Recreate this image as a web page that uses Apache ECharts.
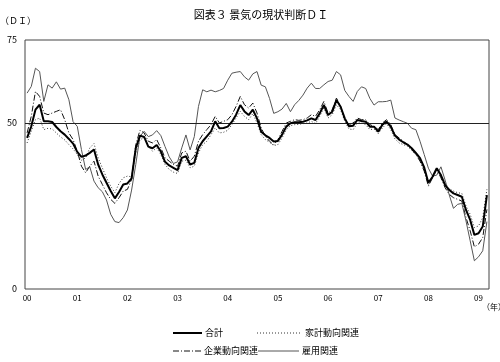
<!DOCTYPE html>
<html>
<head>
<meta charset="utf-8">
<script src="https://cdn.jsdelivr.net/npm/echarts@6/dist/echarts.min.js"></script>
<style>
  html, body { margin: 0; padding: 0; background: #fff; }
  #chart { width: 500px; height: 362px; }
</style>
</head>
<body>
<div id="chart"></div>
<script>
// 2000年1月〜2009年3月（月次）
const years = ['00', '01', '02', '03', '04', '05', '06', '07', '08', '09'];
const months = [];
years.forEach(function (y) {
  for (let m = 1; m <= 12; m++) {
    if (y === '09' && m > 3) break;
    months.push(y + '/' + m);
  }
});

// 合計
const total = [
  45.5, 49.0, 54.0, 55.5, 50.5, 50.5, 50.3, 48.8, 47.5, 46.5, 45.2, 43.8,
  41.3, 39.8, 40.2, 41.0, 42.0, 37.5, 34.5, 32.0, 29.5, 27.3, 29.2, 31.5,
  31.8, 33.3, 42.4, 46.2, 45.8, 42.9, 42.4, 43.4, 41.4, 38.3, 37.2, 36.5,
  35.8, 39.5, 40.0, 37.5, 38.0, 42.5, 44.5, 46.0, 47.5, 50.5, 48.4, 48.5,
  48.9, 50.4, 52.5, 55.4, 53.5, 52.4, 54.0, 51.4, 47.4, 46.3, 45.5, 44.4,
  44.6, 46.5, 48.9, 49.9, 50.2, 50.2, 50.4, 50.8, 51.4, 50.9, 52.9, 55.4,
  52.4, 53.4, 56.9, 54.9, 51.4, 49.0, 49.2, 50.9, 50.6, 50.4, 48.9, 48.9,
  47.4, 49.5, 50.4, 48.9, 46.2, 45.0, 44.2, 43.5, 42.4, 41.0, 39.4, 36.6,
  32.0, 33.8, 36.4, 34.3, 31.3, 29.8, 28.8, 28.3, 27.8, 23.8, 20.8, 16.3,
  16.8, 18.8, 28.3
];
// 家計動向関連
const household = [
  44.0, 47.5, 51.0, 51.5, 48.0, 48.4, 48.2, 47.0, 45.8, 44.9, 43.5, 42.2,
  40.5, 38.8, 39.5, 42.5, 43.8, 39.5, 36.5, 33.5, 31.0, 29.0, 31.8, 33.5,
  34.0, 33.8, 41.0, 45.0, 45.5, 43.0, 41.5, 42.5, 40.5, 37.5, 36.0, 35.2,
  34.8, 38.5, 38.8, 36.5, 37.0, 41.0, 43.5, 44.5, 46.5, 48.5, 47.0, 47.2,
  47.8, 49.5, 51.5, 53.5, 52.0, 51.0, 52.8, 50.0, 46.5, 45.0, 44.2, 43.2,
  43.5, 45.5, 48.0, 49.2, 49.5, 49.6, 49.8, 50.0, 50.5, 49.8, 52.0, 54.5,
  51.5, 52.5, 55.5, 54.0, 50.5, 48.2, 48.0, 50.0, 50.0, 49.5, 48.0, 48.2,
  46.8, 48.5, 49.8, 48.0, 45.2, 44.0, 43.5, 43.0, 41.8, 40.5, 38.8, 36.0,
  31.5, 33.5, 36.0, 34.5, 31.8, 30.2, 29.5, 29.0, 28.8, 25.0, 22.5, 18.5,
  19.0, 21.5, 30.0
];
// 企業動向関連
const company = [
  47.0, 52.0, 59.5, 58.0, 53.0, 52.5, 53.0, 53.5, 54.0, 51.0, 47.0, 45.0,
  41.5, 37.0, 35.0, 37.0, 38.5, 34.0, 31.5, 29.0, 27.0, 25.8, 27.5, 29.5,
  30.0, 33.0, 43.5, 47.8, 47.0, 44.5, 44.0, 45.0, 42.5, 39.5, 38.5, 37.5,
  37.0, 41.0, 41.5, 38.5, 40.0, 44.5, 46.5, 48.0, 49.5, 52.0, 50.0, 50.5,
  51.0, 52.5, 55.0, 58.0, 55.5, 54.5, 56.0, 53.0, 48.5, 46.0, 44.5, 43.4,
  45.0, 47.5, 50.0, 50.5, 51.0, 50.8, 51.0, 51.5, 52.5, 52.0, 54.0, 56.5,
  53.0, 54.0, 57.5, 55.0, 51.0, 49.5, 50.0, 51.5, 51.0, 51.0, 49.5, 49.0,
  48.0, 50.0, 51.0, 49.5, 46.5, 45.5, 44.5, 43.5, 42.0, 40.5, 38.5, 35.5,
  31.0, 33.5, 36.0, 33.5, 30.5, 28.5, 27.5, 27.0, 26.5, 21.5, 17.5, 12.7,
  13.5, 15.5, 24.0
];
// 雇用関連
const employment = [
  59.0, 61.0, 66.5, 65.5, 56.5, 61.5, 60.5, 62.4, 60.2, 60.5, 57.0, 50.4,
  49.0, 42.0, 36.0, 36.8, 32.5, 30.5, 29.3, 26.8, 22.5, 20.3, 20.0, 21.5,
  23.8, 29.8, 37.5, 46.0, 47.5, 45.9, 46.4, 47.7, 46.2, 42.9, 39.8, 37.8,
  38.3, 42.5, 46.4, 41.9, 45.9, 55.0, 60.0, 59.4, 59.9, 59.4, 59.8, 60.4,
  62.9, 65.0, 65.3, 65.5, 63.9, 62.9, 64.8, 65.5, 61.4, 60.9, 57.4, 52.9,
  53.4, 54.2, 55.9, 53.4, 55.5, 56.8, 58.4, 60.5, 62.0, 60.4, 60.4, 61.5,
  62.5, 62.9, 65.5, 64.5, 59.8, 58.0, 56.5, 59.5, 60.9, 60.4, 57.4, 55.4,
  56.4, 56.4, 56.5, 56.9, 51.5, 50.9, 50.4, 49.9, 48.4, 48.0, 44.5, 40.5,
  36.4, 34.0, 34.3, 36.8, 32.8, 28.3, 24.3, 25.5, 25.8, 20.5, 14.5, 8.5,
  9.7, 11.5, 20.3
];

const shownTicks = [0, 50, 75];

const chartDom = document.getElementById('chart');
const myChart = echarts.init(chartDom);
const font = '"Noto Sans CJK JP", "Noto Sans", sans-serif';

// 凡例（線種を正確に出すため手描き）
function legendItem(label, x1, x2, y, lineStyle) {
  return [
    {
      type: 'line',
      shape: { x1: x1, y1: y, x2: x2, y2: y },
      style: lineStyle,
      silent: true
    },
    {
      type: 'text',
      x: x2 + 3,
      y: y,
      style: { text: label, fontSize: 9, fill: '#000', fontFamily: font, verticalAlign: 'middle' },
      silent: true
    }
  ];
}

const option = {
  animation: false,
  textStyle: { fontFamily: font, color: '#000' },
  title: {
    text: '図表３ 景気の現状判断ＤＩ',
    left: 256,
    textAlign: 'center',
    top: 4,
    textStyle: { fontSize: 11, fontWeight: 'normal', color: '#000', fontFamily: font }
  },
  graphic: [
    { type: 'text', left: 0, top: 16, style: { text: '（ＤＩ）', fontSize: 9, fill: '#000', fontFamily: font } },
    { type: 'text', left: 482, top: 303, style: { text: '（年）', fontSize: 8, fill: '#000', fontFamily: font } }
  ]
    .concat(legendItem('合計', 173, 202, 333, { stroke: '#000', lineWidth: 2 }))
    .concat(legendItem('家計動向関連', 257, 302, 333, { stroke: '#333', lineWidth: 1, lineDash: [1, 2] }))
    .concat(legendItem('企業動向関連', 173, 201, 351, { stroke: '#111', lineWidth: 1, lineDash: [6, 2, 1, 2] }))
    .concat(legendItem('雇用関連', 258, 299, 351, { stroke: '#555', lineWidth: 1 })),
  grid: {
    left: 25,
    right: 11,
    top: 40,
    bottom: 73,
    show: true,
    borderColor: '#444',
    borderWidth: 1
  },
  xAxis: {
    type: 'category',
    data: months,
    boundaryGap: true,
    axisLine: { show: false },
    axisTick: { show: false },
    axisLabel: {
      interval: function (index) { return index % 12 === 0; },
      formatter: function (v) { return v.split('/')[0]; },
      fontSize: 8,
      color: '#000',
      margin: 5
    }
  },
  yAxis: {
    type: 'value',
    min: 0,
    max: 75,
    interval: 25,
    axisLine: { show: false },
    axisTick: { show: false },
    splitLine: { show: false },
    axisLabel: {
      fontSize: 9,
      color: '#000',
      margin: 8,
      formatter: function (v) { return shownTicks.indexOf(v) >= 0 ? String(v) : ''; }
    }
  },
  series: [
    {
      name: '合計',
      type: 'line',
      data: total,
      symbol: 'none',
      z: 5,
      lineStyle: { color: '#000', width: 2 },
      itemStyle: { color: '#000' },
      markLine: {
        silent: true,
        symbol: 'none',
        label: { show: false },
        lineStyle: { color: '#222', width: 1, type: 'solid' },
        data: [{ yAxis: 50 }]
      }
    },
    {
      name: '家計動向関連',
      type: 'line',
      data: household,
      symbol: 'none',
      lineStyle: { color: '#333', width: 1, type: [1, 2] },
      itemStyle: { color: '#333' }
    },
    {
      name: '企業動向関連',
      type: 'line',
      data: company,
      symbol: 'none',
      lineStyle: { color: '#111', width: 1, type: [6, 2, 1, 2] },
      itemStyle: { color: '#111' }
    },
    {
      name: '雇用関連',
      type: 'line',
      data: employment,
      symbol: 'none',
      lineStyle: { color: '#555', width: 1 },
      itemStyle: { color: '#555' }
    }
  ]
};

option && myChart.setOption(option);
window.addEventListener('resize', function () {
  myChart.resize();
});
</script>
</body>
</html>
